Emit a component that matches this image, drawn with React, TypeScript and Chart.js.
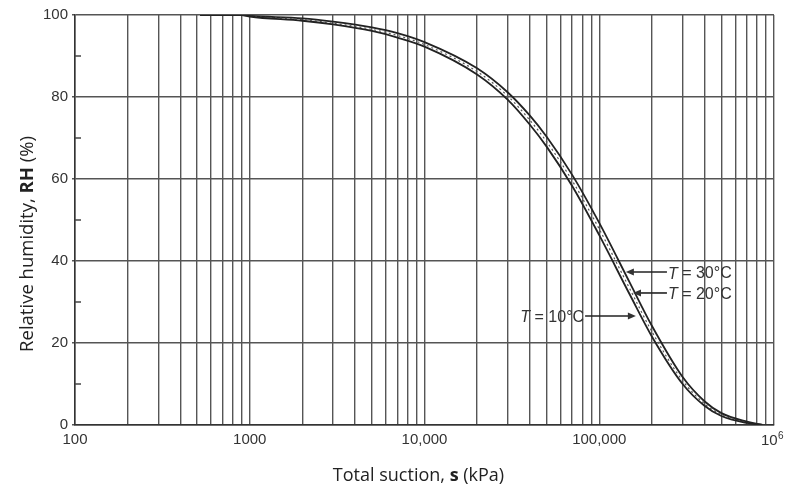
import React, { useEffect, useRef } from 'react';
import { Chart, registerables } from 'chart.js';

Chart.register(...registerables);

// ---- data ----
const suction = [520, 900, 1000, 2000, 3000, 5000, 7000, 10000, 20000, 30000, 40000, 50000, 70000, 100000, 150000, 200000, 300000, 400000, 500000, 700000, 860000];
const rh10 = [100, 100, 99.6, 98.6, 97.7, 96.1, 94.5, 92.3, 85.5, 79.3, 73.3, 67.9, 58.3, 46.3, 31.7, 21.6, 10.0, 4.7, 2.2, 0.5, 0];
const rh20 = [100, 100, 99.7, 98.9, 98.0, 96.5, 95.0, 92.8, 86.2, 80.2, 74.4, 69.1, 59.6, 47.8, 33.1, 22.8, 10.8, 5.2, 2.5, 0.6, 0];
const rh30 = [100, 100, 99.8, 99.2, 98.4, 97.0, 95.6, 93.4, 87.0, 81.1, 75.5, 70.3, 61.0, 49.3, 34.6, 24.2, 11.7, 5.8, 2.9, 0.8, 0];

// axis ticks
const xDecades = [100, 1000, 10000, 100000];
const xMultipliers = [1, 2, 3, 4, 5, 6, 7, 8, 9];
const xMax = 1000000;
const xLabelValues = [100, 1000, 10000, 100000];
const xLabelTexts = ['100', '1000', '10,000', '100,000'];
const xMaxLabelBase = '10';
const xMaxLabelExp = '6';
const yMinorTicks = [10, 30, 50, 70, 90];

// annotations (T = ..°C with arrows)
const annTemps = ['30°C', '20°C', '10°C'];
const annTipS = [142000, 156000, 162000];
const annTipRH = [37.3, 32.2, 26.6];
const annTailS = [244000, 244000, 83000];
const annSide = ['right', 'right', 'left'];

const xGridValues: number[] = [];
xDecades.forEach((d) => xMultipliers.forEach((m) => xGridValues.push(d * m)));
xGridValues.push(xMax);

const TICK_FONT = '"Liberation Sans", Arial, sans-serif';
const TITLE_FONT = '"Open Sans", "Noto Sans", sans-serif';

function drawMixed(ctx: CanvasRenderingContext2D, parts: { t: string; b: boolean }[], cx: number, y: number, size: number) {
  let total = 0;
  const widths = parts.map((p) => {
    ctx.font = `${p.b ? 'bold ' : ''}${size}px ${TITLE_FONT}`;
    const w = ctx.measureText(p.t).width;
    total += w;
    return w;
  });
  let x = cx - total / 2;
  ctx.textAlign = 'left';
  ctx.textBaseline = 'alphabetic';
  parts.forEach((p, i) => {
    ctx.font = `${p.b ? 'bold ' : ''}${size}px ${TITLE_FONT}`;
    ctx.fillText(p.t, x, y);
    x += widths[i];
  });
}

const extrasPlugin = {
  id: 'extras',
  afterDraw(chart: any) {
    const ctx: CanvasRenderingContext2D = chart.ctx;
    const { left, right, top, bottom } = chart.chartArea;
    const xs = chart.scales.x;
    const ys = chart.scales.y;
    ctx.save();

    // minor inward ticks on y axis
    ctx.strokeStyle = '#444';
    ctx.lineWidth = 1.5;
    yMinorTicks.forEach((v) => {
      const y = ys.getPixelForValue(v);
      ctx.beginPath();
      ctx.moveTo(left, y);
      ctx.lineTo(left + 6, y);
      ctx.stroke();
    });

    // 10^6 label at the end of x axis
    ctx.fillStyle = '#333';
    ctx.font = `15px ${TICK_FONT}`;
    const wb = ctx.measureText(xMaxLabelBase).width;
    ctx.font = `10px ${TICK_FONT}`;
    const we = ctx.measureText(xMaxLabelExp).width;
    const px = xs.getPixelForValue(xMax) - 2;
    const bx = px - (wb + we) / 2;
    ctx.textAlign = 'left';
    ctx.textBaseline = 'alphabetic';
    ctx.font = `15px ${TICK_FONT}`;
    ctx.fillText(xMaxLabelBase, bx, bottom + 20);
    ctx.font = `10px ${TICK_FONT}`;
    ctx.fillText(xMaxLabelExp, bx + wb + 0.5, bottom + 14);

    // annotations
    ctx.fillStyle = '#333';
    ctx.strokeStyle = '#222';
    ctx.lineWidth = 1.6;
    annTemps.forEach((temp, i) => {
      const tx = xs.getPixelForValue(annTipS[i]);
      const ty = ys.getPixelForValue(annTipRH[i]);
      const ax = xs.getPixelForValue(annTailS[i]);
      const dir = ax > tx ? 1 : -1; // tail side relative to tip
      ctx.beginPath();
      ctx.moveTo(ax, ty);
      ctx.lineTo(tx + dir * 6, ty);
      ctx.stroke();
      ctx.beginPath();
      ctx.moveTo(tx, ty);
      ctx.lineTo(tx + dir * 8, ty - 3.5);
      ctx.lineTo(tx + dir * 8, ty + 3.5);
      ctx.closePath();
      ctx.fill();

      const size = 16;
      ctx.font = `italic ${size}px ${TICK_FONT}`;
      const wT = ctx.measureText('T').width;
      ctx.font = `${size}px ${TICK_FONT}`;
      const rest = ' = ' + temp;
      const wR = ctx.measureText(rest).width;
      const total = wT + wR;
      const sx = annSide[i] === 'right' ? ax + 1 : ax - 1 - total;
      ctx.textBaseline = 'middle';
      ctx.textAlign = 'left';
      ctx.font = `italic ${size}px ${TICK_FONT}`;
      ctx.fillText('T', sx, ty + 2);
      ctx.font = `${size}px ${TICK_FONT}`;
      ctx.fillText(rest, sx + wT, ty + 2);
    });

    // axis titles
    ctx.fillStyle = '#222';
    drawMixed(
      ctx,
      [
        { t: 'Total suction, ', b: false },
        { t: 's', b: true },
        { t: ' (kPa)', b: false },
      ],
      (left + right) / 2 - 6,
      bottom + 56,
      18
    );
    ctx.save();
    ctx.translate(left - 42, (top + bottom) / 2 + 24);
    ctx.rotate(-Math.PI / 2);
    drawMixed(
      ctx,
      [
        { t: 'Relative humidity, ', b: false },
        { t: 'RH', b: true },
        { t: ' (%)', b: false },
      ],
      0,
      0,
      18.5
    );
    ctx.restore();

    ctx.restore();
  },
};

export default function App() {
  const ref = useRef<HTMLCanvasElement | null>(null);

  useEffect(() => {
    if (!ref.current) return;
    const mk = (v: number[]) => suction.map((s, i) => ({ x: s, y: v[i] }));
    const chart = new Chart(ref.current, {
      type: 'line',
      data: {
        datasets: [
          {
            label: 'T = 10°C',
            data: mk(rh10),
            borderColor: '#222',
            borderWidth: 1.8,
            pointRadius: 0,
            cubicInterpolationMode: 'monotone',
            fill: false,
          },
          {
            label: 'T = 20°C',
            data: mk(rh20),
            borderColor: '#555',
            borderWidth: 1.2,
            borderDash: [2, 3],
            pointRadius: 0,
            cubicInterpolationMode: 'monotone',
            fill: false,
          },
          {
            label: 'T = 30°C',
            data: mk(rh30),
            borderColor: '#222',
            borderWidth: 1.8,
            pointRadius: 0,
            cubicInterpolationMode: 'monotone',
            fill: false,
          },
        ],
      },
      options: {
        animation: false,
        responsive: true,
        maintainAspectRatio: false,
        layout: { padding: { top: 15, right: 12, left: 0, bottom: 0 } },
        plugins: { legend: { display: false }, tooltip: { enabled: false } },
        scales: {
          x: {
            type: 'logarithmic',
            min: 100,
            max: xMax,
            afterBuildTicks: (scale: any) => {
              scale.ticks = xGridValues.map((v) => ({ value: v }));
            },
            afterFit: (scale: any) => {
              scale.height = 63;
              scale.paddingRight = 0;
              scale.paddingLeft = 0;
            },
            ticks: {
              autoSkip: false,
              maxRotation: 0,
              padding: 6,
              color: '#333',
              font: { family: TICK_FONT, size: 15 },
              callback: (v: any) => {
                const i = xLabelValues.indexOf(Number(v));
                return i >= 0 ? xLabelTexts[i] : '';
              },
            },
            grid: { color: '#555', lineWidth: 1.4, drawTicks: false, tickLength: 0 },
            border: { display: true, color: '#333', width: 1.5 },
          },
          y: {
            min: 0,
            max: 100,
            afterFit: (scale: any) => {
              scale.width = 75;
            },
            ticks: {
              stepSize: 20,
              padding: 4,
              color: '#333',
              font: { family: TICK_FONT, size: 15 },
            },
            grid: { color: '#555', lineWidth: 1.4, tickLength: 3 },
            border: { display: true, color: '#333', width: 1.5 },
          },
        },
      } as any,
      plugins: [extrasPlugin],
    });
    return () => chart.destroy();
  }, []);

  return (
    <div style={{ position: 'absolute', left: 0, top: 0, width: 786, height: 488, background: '#fff' }}>
      <canvas ref={ref} />
    </div>
  );
}
